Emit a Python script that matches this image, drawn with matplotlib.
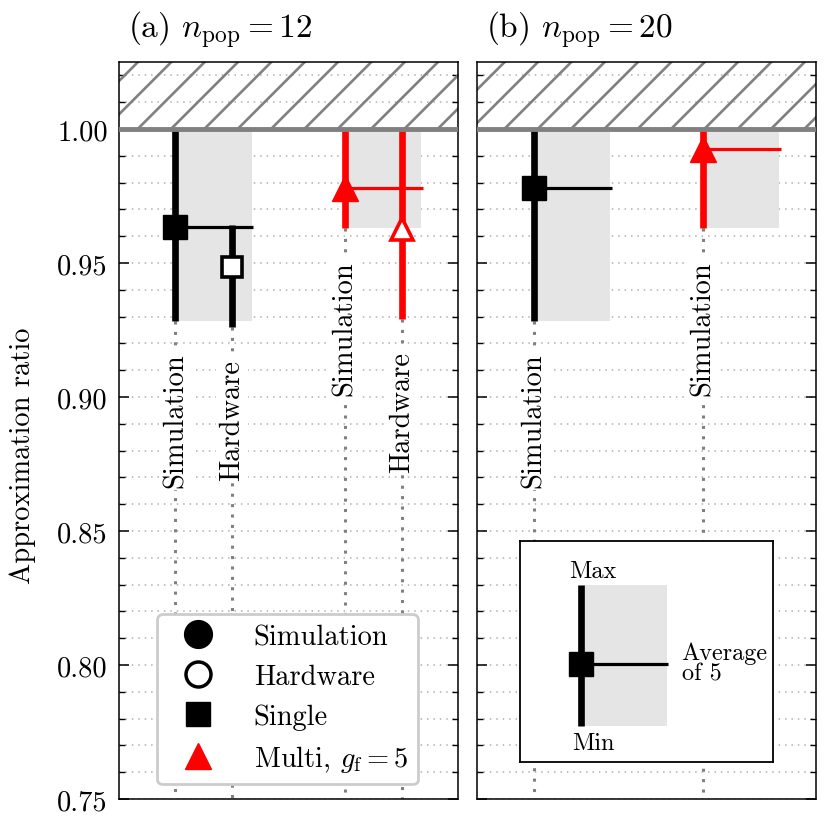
"""
Approximation ratio of single vs multi population runs, simulation vs hardware
"""

import numpy as np
import matplotlib
matplotlib.use('Agg')
import matplotlib.pyplot as plt
from matplotlib.lines import Line2D
from matplotlib.ticker import MultipleLocator, FormatStrFormatter

# ---- values ----
panel_titles = [r'(a) $n_\mathrm{pop}=12$', r'(b) $n_\mathrm{pop}=20$']

# panel (a): n_pop = 12
a_method = ['Single', 'Single', 'Multi', 'Multi']
a_source = ['Simulation', 'Hardware', 'Simulation', 'Hardware']
a_min = [0.9285, 0.926, 0.963, 0.929]
a_max = [1.000, 0.964, 1.000, 1.000]
a_avg = [0.9633, 0.9486, 0.9778, 0.9628]

# panel (b): n_pop = 20
b_method = ['Single', 'Multi']
b_source = ['Simulation', 'Simulation']
b_min = [0.9285, 0.963]
b_max = [1.000, 1.000]
b_avg = [0.978, 0.9926]

legend_labels = ['Simulation', 'Hardware', 'Single', r'Multi, $g_\mathrm{f}=5$']

# key box in panel (b), in its own 0..1 units
key_lo = 0.164
key_hi = 0.80
key_avg = 0.442
key_labels = ['Max', 'Min', 'Average\nof 5']

# ---- styling ----
METHOD_OFFSET = {'Single': 0, 'Multi': 3}
SOURCE_OFFSET = {'Simulation': 1, 'Hardware': 2}
METHOD_STYLE = {'Single': dict(color='black', marker='s', ms=17.5),
                'Multi': dict(color='red', marker='^', ms=19)}
OPEN_MS = {'Single': 15, 'Multi': 15.5}
BOX_COLOR = '#e5e5e5'
BOX_W = 1.35
AVG_W = 1.38

plt.rcParams.update({
    'font.family': ['cmr10', 'DejaVu Serif'],
    'mathtext.fontset': 'cm',
    'axes.formatter.use_mathtext': True,
    'font.size': 20,
    'axes.linewidth': 1.1,
    'ytick.direction': 'in',
    'ytick.major.size': 7,
    'ytick.minor.size': 4,
    'ytick.major.width': 1.1,
    'ytick.minor.width': 1.0,
    'hatch.color': 'gray',
    'hatch.linewidth': 1.9,
})


def style_axes(ax, show_labels):
    """Limits, ticks, grid and the hatched region above 1"""
    ax.set_xlim(0, 6)
    ax.set_ylim(0.75, 1.025)
    ax.set_xticks([])
    ax.yaxis.set_major_locator(MultipleLocator(0.05))
    ax.yaxis.set_minor_locator(MultipleLocator(0.01))
    ax.yaxis.set_major_formatter(FormatStrFormatter('%.2f'))
    ax.tick_params(axis='y', which='both', left=True, right=True,
                   labelleft=show_labels)
    ax.tick_params(axis='y', which='major', pad=8, labelsize=20.5)
    ax.grid(axis='y', which='both', linestyle=(0, (1, 3.2)),
            color='#b0b0b0', linewidth=1.1)
    ax.set_axisbelow(True)

    ax.axhspan(1.0, 1.1, facecolor='none', edgecolor='gray', hatch='/',
               linewidth=0, zorder=0.8)
    ax.axhline(1.0, color='gray', lw=3.5, zorder=6)


def draw_panel(ax, methods, sources, mins, maxs, avgs):
    """Min-max bars, average markers and labels for one panel"""
    for m, s, lo, hi, avg in zip(methods, sources, mins, maxs, avgs):
        x = METHOD_OFFSET[m] + SOURCE_OFFSET[s]
        st = METHOD_STYLE[m]

        if s == 'Simulation':
            ax.fill_between([x, x + BOX_W], lo, hi, color=BOX_COLOR,
                            lw=0, zorder=1)
            ax.plot([x, x + AVG_W], [avg, avg], color=st['color'], lw=2.3,
                    solid_capstyle='butt', zorder=2)

        # dotted guide down to the axis
        ax.plot([x, x], [lo, 0.75], color='gray', lw=2.2,
                linestyle=(0, (1, 2.4)), zorder=1.5)
        ax.plot([x, x], [lo, hi], color=st['color'], lw=4.8,
                solid_capstyle='butt', zorder=2.5)

        if s == 'Simulation':
            ax.plot(x, avg, linestyle='none', marker=st['marker'],
                    ms=st['ms'], color=st['color'], zorder=3)
        else:
            ax.plot(x, avg, linestyle='none', marker=st['marker'],
                    ms=OPEN_MS[m], mfc='white', mec=st['color'], mew=2.6,
                    zorder=3)

        ax.text(x, lo - 0.012, s, rotation=90, ha='center', va='top',
                fontsize=20.5,
                bbox=dict(facecolor='white', edgecolor='none', pad=2),
                zorder=4)


fig = plt.figure(figsize=(8.29, 8.29), dpi=100)
ax_a = fig.add_axes([0.1435, 0.035, 0.409, 0.889])
ax_b = fig.add_axes([0.5754, 0.035, 0.409, 0.889])

style_axes(ax_a, True)
style_axes(ax_b, False)

draw_panel(ax_a, a_method, a_source, a_min, a_max, a_avg)
draw_panel(ax_b, b_method, b_source, b_min, b_max, b_avg)

for ax, title in zip([ax_a, ax_b], panel_titles):
    ax.text(0.027, 1.034, title, transform=ax.transAxes,
            ha='left', va='baseline', fontsize=24)

ax_a.set_ylabel('Approximation ratio', fontsize=20.5)
ax_a.yaxis.set_label_coords(-0.245, 0.467)

# legend for panel (a)
handles = [
    Line2D([], [], linestyle='none', marker='o', ms=20, color='black'),
    Line2D([], [], linestyle='none', marker='o', ms=18, mfc='white',
           mec='black', mew=2.5),
    Line2D([], [], linestyle='none', marker='s', ms=17, color='black'),
    Line2D([], [], linestyle='none', marker='^', ms=19, color='red'),
]
leg = ax_a.legend(handles, legend_labels, loc='lower center',
                  bbox_to_anchor=(0.497, 0.02), borderaxespad=0,
                  framealpha=1, edgecolor='#cccccc', fancybox=True,
                  handlelength=2.2, handletextpad=0.85, labelspacing=0.47,
                  borderpad=0.35, numpoints=1, fontsize=20.5)
leg.get_frame().set_linewidth(2)
leg.set_zorder(5)

# key explaining the glyphs, panel (b)
ins = ax_b.inset_axes([0.127, 0.05, 0.746, 0.30])
ins.set_xlim(0, 1)
ins.set_ylim(0, 1)
ins.set_xticks([])
ins.set_yticks([])
ins.set_facecolor('white')
for sp in ins.spines.values():
    sp.set_linewidth(1.3)
ins.set_zorder(5)

kx = 0.241
ins.fill_between([kx, 0.58], key_lo, key_hi, color=BOX_COLOR, lw=0, zorder=1)
ins.plot([kx, 0.585], [key_avg, key_avg], color='black', lw=2.3,
         solid_capstyle='butt', zorder=2)
ins.plot([kx, kx], [key_lo, key_hi], color='black', lw=4.8,
         solid_capstyle='butt', zorder=2.5)
ins.plot(kx, key_avg, linestyle='none', marker='s', ms=17.5, color='black',
         zorder=3)
ins.text(0.288, 0.837, key_labels[0], ha='center', va='baseline', fontsize=17.5)
ins.text(0.288, 0.06, key_labels[1], ha='center', va='baseline', fontsize=17.5)
ins.text(0.639, 0.45, key_labels[2], ha='left', va='center', fontsize=17.5,
         linespacing=0.9)

plt.savefig('out.png', dpi=100)
